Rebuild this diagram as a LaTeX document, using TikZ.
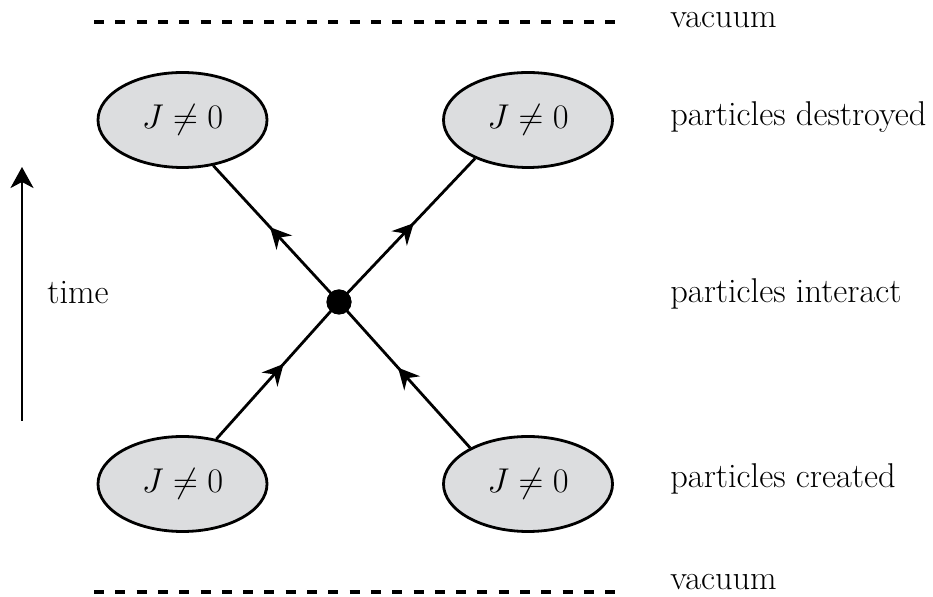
\RequirePackage{fix-cm}
\documentclass[tikz,border=0pt]{standalone}
\usetikzlibrary{arrows.meta,decorations.markings,shapes.geometric}
\definecolor{blobfill}{RGB}{220,221,223}
\tikzset{
  blob/.style={ellipse, draw, line width=1.4pt, fill=blobfill,
    minimum width=84.5pt, minimum height=47.5pt, inner sep=0pt},
  vertex/.style={circle, fill=black, minimum size=12.5pt, inner sep=0pt},
  prop/.style={line width=1.4pt, postaction={decorate},
    decoration={markings, mark=at position 0.55 with
      {\arrow{Stealth[length=10.5pt,width=10.5pt,inset=3.5pt]}}}},
  vac/.style={line width=1.6pt, dash pattern=on 5pt off 5.65pt},
  lbl/.style={anchor=base west, inner sep=0pt},
}
\begin{document}
\begin{tikzpicture}[x=0.5pt,y=-0.5pt,font=\fontsize{17.2}{21}\selectfont]
\useasboundingbox (0,0) rectangle (933,597);

% vacuum boundaries
\coordinate (vt1) at (94,22);
\coordinate (vt2) at (616,22);
\coordinate (vb1) at (94,592);
\coordinate (vb2) at (616,592);
\draw[vac] (vt1) -- (vt2);
\draw[vac] (vb1) -- (vb2);

% sources
\node[blob] (e1) at (182.5,120) {$J\neq0$};
\node[blob] (e2) at (528,120) {$J\neq0$};
\node[blob] (e3) at (182.5,484) {$J\neq0$};
\node[blob] (e4) at (528,484) {$J\neq0$};

% interaction vertex and propagators
\node[vertex] (v) at (339,302) {};
\draw[prop] (e3.53.1) -- (v.center);
\draw[prop] (e4.148.2) -- (v.center);
\draw[prop] (v.center) -- (e1.-56.5);
\draw[prop] (v.center) -- (e2.-144.7);
\node[vertex] at (v) {};

% time axis
\coordinate (t0) at (22,421);
\coordinate (t1) at (22,167);
\draw[line width=1.4pt,-{Stealth[length=10.5pt,width=11.5pt,inset=3pt]}] (t0) -- (t1);
\node[lbl] (time) at (47,304) {time};

% stage labels
\node[lbl] (l1) at (670,28) {vacuum};
\node[lbl] (l2) at (670,126) {particles destroyed};
\node[lbl] (l3) at (670,303) {particles interact};
\node[lbl] (l4) at (670,488) {particles created};
\node[lbl] (l5) at (670,590) {vacuum};
\end{tikzpicture}
\end{document}
